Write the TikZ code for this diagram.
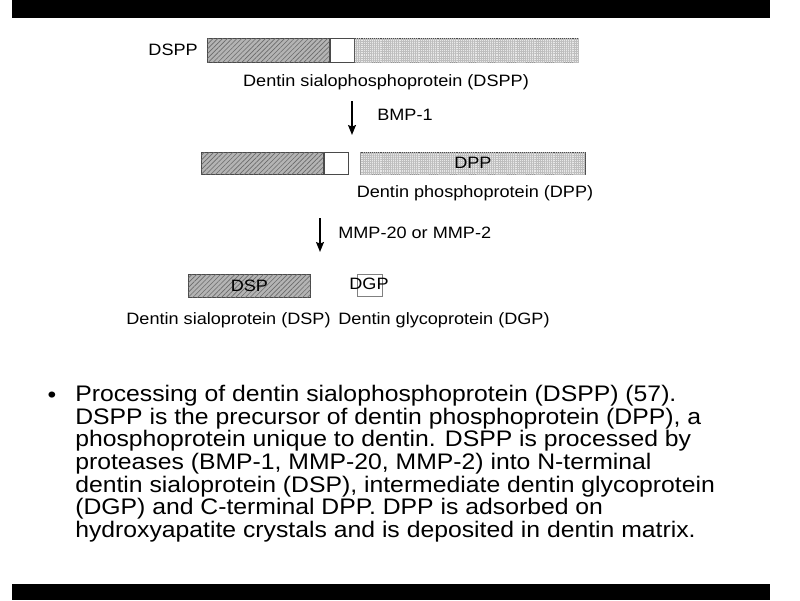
\documentclass[tikz,border=0pt]{standalone}
\usepackage{fontspec}
\setmainfont[FakeStretch=1.1]{Liberation Sans}
\usetikzlibrary{positioning,arrows.meta,patterns.meta}

\definecolor{bar-edge}{HTML}{4A4A4A}
\definecolor{hatch-fill}{HTML}{B4B4B4}
\definecolor{hatch-ink}{HTML}{6A6A6A}
\definecolor{grid-fill}{HTML}{E8E8E8}
\definecolor{grid-ink}{HTML}{BEBEBE}

\newlength{\pxu}
\setlength{\pxu}{0.025cm}

\begin{document}
\begin{tikzpicture}[x=0.025cm, y=-0.025cm,
    every node/.style={font=\fontsize{11.7}{13}\selectfont, inner sep=0pt},
    seg/.style={draw=bar-edge, line width=0.5pt},
    sialo/.style={seg, fill=hatch-fill,
      postaction={pattern={Lines[angle=45,distance=2.4pt,line width=0.45pt]}, pattern color=hatch-ink}},
    phospho/.style={seg, fill=grid-fill,
      postaction={pattern={Hatch[angle=0,distance=1.5pt,line width=0.3pt]}, pattern color=grid-ink}},
    linker/.style={seg, fill=white},
    cleave/.style={line width=1.4pt, -{Stealth[length=7pt,width=5.5pt,inset=1pt]}}]
    \useasboundingbox (0,0) rectangle (800,600);
    \fill (12,0) rectangle (770,18);
    \fill (12,584) rectangle (770,600);

    % full length precursor
    \node[sialo, minimum width=122\pxu, minimum height=24\pxu, anchor=west] (dsppN) at (207,50) {};
    \node[linker, minimum width=24\pxu, minimum height=24\pxu, right=0pt of dsppN] (dsppL) {};
    \node[phospho, minimum width=224\pxu, minimum height=24\pxu, right=0pt of dsppL] (dsppC) {};
    \node[left=9\pxu of dsppN] (dsppTag) {DSPP};
    \node (dsppCap) at (386,82) {Dentin sialophosphoprotein (DSPP)};

    \coordinate (cut1top) at (352,101);
    \coordinate (cut1end) at (352,135);
    \draw[cleave] (cut1top) -- (cut1end);
    \node[anchor=west] (bmp) at (377,115) {BMP-1};

    % after the first cut
    \node[sialo, minimum width=122\pxu, minimum height=22\pxu, anchor=west] (midN) at (201,163) {};
    \node[linker, minimum width=24\pxu, minimum height=22\pxu, right=0pt of midN] (midL) {};
    \node[phospho, minimum width=225\pxu, minimum height=22\pxu, anchor=west] (dpp) at (360,163) {DPP};
    \node (dppCap) at (475,193) {Dentin phosphoprotein (DPP)};

    \coordinate (cut2top) at (320,218);
    \coordinate (cut2end) at (320,252);
    \draw[cleave] (cut2top) -- (cut2end);
    \node[anchor=west] (mmp) at (338,233) {MMP-20 or MMP-2};

    % final products
    \node[sialo, minimum width=122\pxu, minimum height=23\pxu, anchor=west] (dsp) at (188,285.5) {DSP};
    \node[seg, draw=gray, fill=white, minimum width=25\pxu, minimum height=22\pxu] (dgp) at (369.5,285.5) {};
    \node (dgpTxt) at (369,284) {DGP};
    \node (dspCap) at (228.5,320) {Dentin sialoprotein (DSP)};
    \node (dgpCap) at (444,320) {Dentin glycoprotein (DGP)};

    \node[font=\fontsize{16}{16.1}\selectfont, anchor=base] (dot) at (52,402) {\textbullet};
    \node[font=\fontsize{16}{16.1}\selectfont, anchor=north west, align=left] (notes) at (75,385) {%
      Processing of dentin sialophosphoprotein (DSPP) (57).\\
      DSPP is the precursor of dentin phosphoprotein (DPP), a\\
      phosphoprotein unique to dentin. DSPP is processed by\\
      proteases (BMP-1, MMP-20, MMP-2) into N-terminal\\
      dentin sialoprotein (DSP), intermediate dentin glycoprotein\\
      (DGP) and C-terminal DPP. DPP is adsorbed on\\
      hydroxyapatite crystals and is deposited in dentin matrix.};
  \end{tikzpicture}
\end{document}
